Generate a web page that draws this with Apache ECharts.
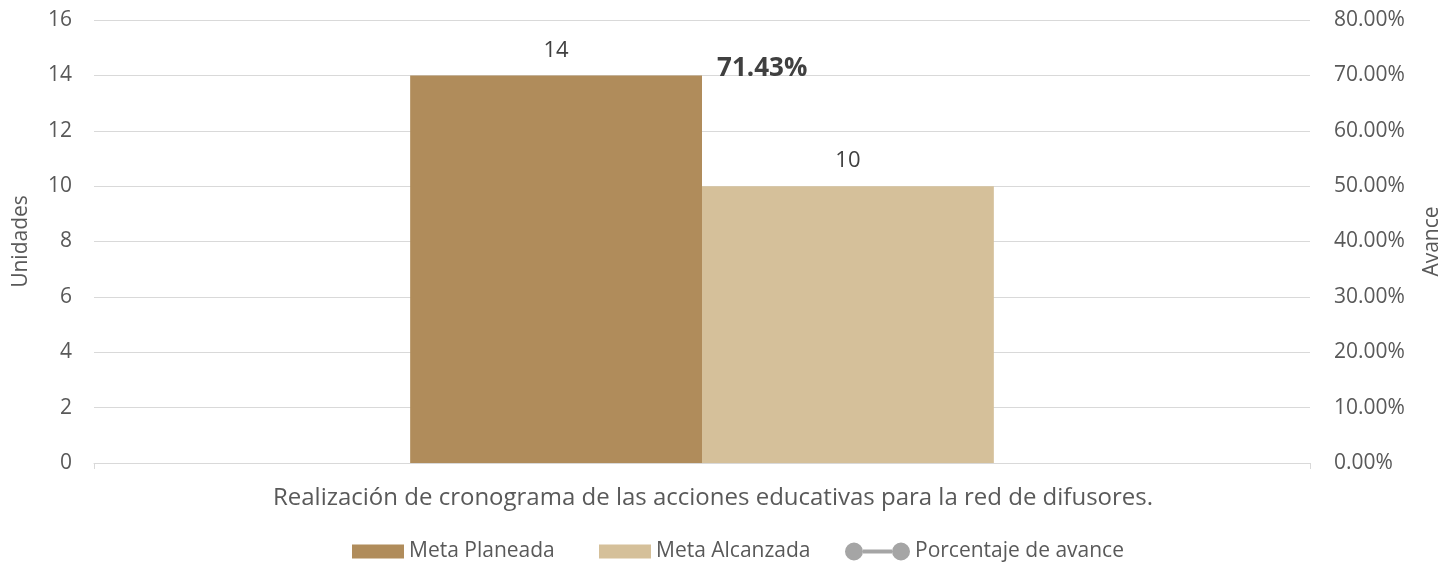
<!DOCTYPE html>
<html><head><meta charset="utf-8">
<script src="https://cdn.jsdelivr.net/npm/echarts@6/dist/echarts.min.js"></script>
<style>html,body{margin:0;padding:0;background:#fff}#c{width:1446px;height:562px}</style>
</head><body><div id="c"></div>
<script>
const categories = ['Realización de cronograma de las acciones educativas para la red de difusores.'];
const metaPlaneada = [14];
const metaAlcanzada = [10];
const porcentajeAvance = [0.7143];
const seriesNames = ['Meta Planeada', 'Meta Alcanzada', 'Porcentaje de avance'];

const FONT = '"Open Sans", "Noto Sans", sans-serif';
const TXT = '#595959';
const legendText = { color: TXT, fontSize: 21, fontFamily: FONT };
const chart = echarts.init(document.getElementById('c'));
chart.setOption({
  animation: false,
  textStyle: { fontFamily: FONT },
  grid: { left: 94, right: 136, top: 20, bottom: 99, containLabel: false, outerBoundsMode: 'none' },
  legend: [
    { left: 347, top: 536, itemWidth: 52, itemHeight: 14, textStyle: legendText,
      data: [{ name: seriesNames[0], icon: 'rect' }] },
    { left: 594, top: 536, itemWidth: 52, itemHeight: 14, textStyle: legendText,
      data: [{ name: seriesNames[1], icon: 'rect' }] },
    { left: 840, top: 536, itemWidth: 65, itemHeight: 18, itemGap: 0, textStyle: legendText,
      data: [{ name: seriesNames[2],
        icon: 'path://M0,9a9,9 0 1,0 18,0a9,9 0 1,0 -18,0Z M18,7H47V11H18Z M47,9a9,9 0 1,0 18,0a9,9 0 1,0 -18,0Z',
        itemStyle: { color: '#A5A5A5' } }] }
  ],
  xAxis: {
    type: 'category', data: categories,
    axisLine: { lineStyle: { color: '#D9D9D9' } },
    axisTick: { show: true, alignWithLabel: false, length: 6, lineStyle: { color: '#D9D9D9' } },
    axisLabel: { color: TXT, fontSize: 24, margin: 23, padding: [0, 0, 0, 22] }
  },
  yAxis: [
    { type: 'value', min: 0, max: 16, interval: 2, name: 'Unidades', nameLocation: 'middle', nameGap: 62,
      nameTextStyle: { color: TXT, fontSize: 21 },
      axisLabel: { color: TXT, fontSize: 21, margin: 22 },
      splitLine: { lineStyle: { color: '#D9D9D9' } }, axisLine: { show: false }, axisTick: { show: false } },
    { type: 'value', min: 0, max: 0.8, interval: 0.1, name: 'Avance', nameLocation: 'middle', nameGap: 112,
      nameTextStyle: { color: TXT, fontSize: 21 },
      axisLabel: { color: TXT, fontSize: 21, margin: 24, formatter: v => (v * 100).toFixed(2) + '%' },
      splitLine: { show: false }, axisLine: { show: false }, axisTick: { show: false } }
  ],
  series: [
    { name: seriesNames[0], type: 'bar', data: metaPlaneada, barGap: '0%', barCategoryGap: '52%',
      itemStyle: { color: '#B08C5B' },
      label: { show: true, position: 'top', distance: 14, color: '#404040', fontSize: 22 } },
    { name: seriesNames[1], type: 'bar', data: metaAlcanzada,
      itemStyle: { color: '#D5C09A' },
      label: { show: true, position: 'top', distance: 14, color: '#404040', fontSize: 22 } },
    { name: seriesNames[2], type: 'line', yAxisIndex: 1, data: porcentajeAvance,
      symbol: 'circle', symbolSize: 0.1, itemStyle: { color: '#A5A5A5' }, lineStyle: { color: '#A5A5A5', width: 3 },
      label: { show: true, position: 'right', distance: 15, offset: [0, 1], color: '#404040', fontSize: 26, fontWeight: 'bold',
        formatter: p => (p.value * 100).toFixed(2) + '%' } }
  ]
});
</script></body></html>
